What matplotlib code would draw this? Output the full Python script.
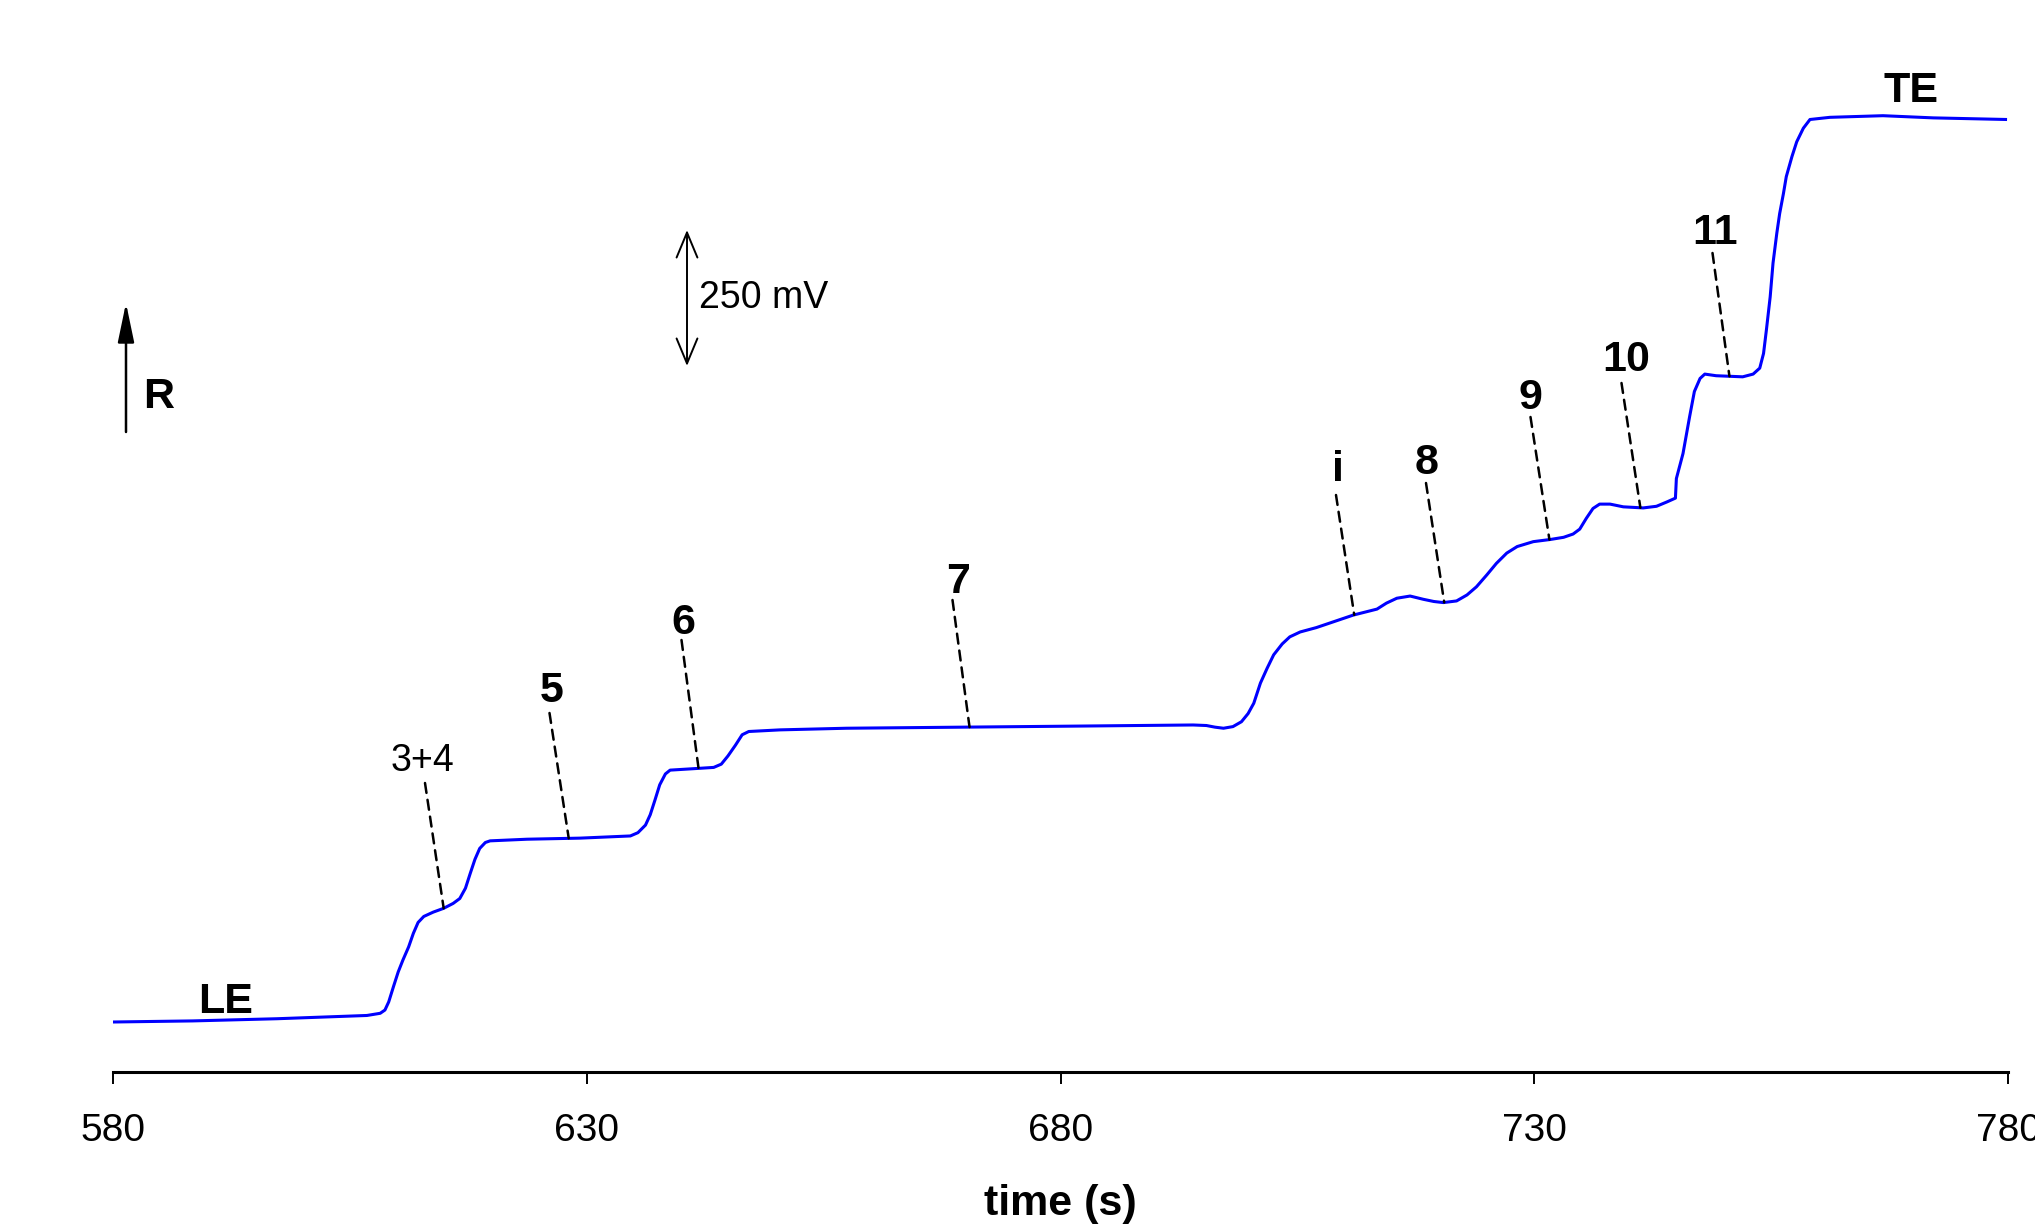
import numpy as np
import matplotlib
matplotlib.use("Agg")
import matplotlib.pyplot as plt

plt.rcParams['font.family'] = ['Liberation Sans', 'DejaVu Sans']

# ---------------- data ----------------
time_s = [580.0, 588.4, 597.3, 606.8, 608.2, 608.7, 609.1, 609.6, 610.1, 610.6,
          611.2, 611.7, 612.2, 612.8, 613.8, 614.9, 615.9, 616.6, 617.2, 617.7,
          618.2, 618.7, 619.3, 619.8, 623.7, 629.3, 634.6, 635.4, 636.2, 636.7,
          637.2, 637.7, 638.3, 638.8, 641.6, 643.4, 644.2, 644.9, 645.7, 646.4,
          647.1, 650.4, 657.4, 682.1, 694.0, 695.4, 696.3, 697.2, 698.2, 699.1,
          699.8, 700.4, 701.1, 701.8, 702.5, 703.4, 704.2, 705.3, 707.0, 710.9,
          713.4, 714.4, 715.5, 716.9, 718.3, 719.4, 720.4, 721.8, 722.9, 723.9,
          725.0, 726.0, 727.1, 728.2, 729.9, 731.7, 733.1, 734.1, 734.8, 735.5,
          736.2, 736.9, 738.0, 739.4, 741.5, 742.9, 744.0, 744.9, 745.0, 745.7,
          746.4, 746.9, 747.5, 748.0, 749.2, 752.0, 753.1, 753.8, 754.2, 754.5,
          754.9, 755.2, 755.6, 755.9, 756.3, 756.6, 757.2, 757.7, 758.4, 759.1,
          761.2, 766.8, 772.1, 779.9]
signal_mV = [0, 2, 6, 12, 16, 22, 37, 65, 92, 114,
             138, 163, 183, 194, 202, 209, 218, 227, 246, 273,
             299, 319, 330, 333, 336, 338, 342, 348, 362, 381,
             408, 436, 456, 463, 466, 468, 474, 489, 509, 528,
             534, 537, 540, 544, 546, 545, 542, 540, 543, 552,
             567, 586, 623, 650, 675, 695, 708, 717, 725, 748,
             759, 770, 779, 783, 777, 773, 771, 774, 785, 800,
             822, 843, 862, 874, 883, 887, 891, 897, 906, 926,
             944, 952, 952, 947, 945, 948, 956, 963, 999, 1045,
             1113, 1159, 1183, 1191, 1188, 1186, 1191, 1202, 1229, 1272,
             1333, 1395, 1450, 1486, 1523, 1554, 1591, 1618, 1643, 1659,
             1663, 1666, 1662, 1659]
assert len(time_s) == len(signal_mV)

x_ticks = [580, 630, 680, 730, 780]
x_label = "time (s)"

zone_labels = ['3+4', '5', '6', '7', 'i', '8', '9', '10', '11']
zone_times = [614.9, 628.1, 641.8, 670.4, 711.0, 720.5, 731.6, 741.2, 750.6]
scale_bar_mV = 250

# ---------------- layout (pixel positions of annotations) ----------------
W, H = 2035, 1224
zone_label_px = [(422, 761), (552, 691), (683, 623), (958, 582), (1338, 470),
                 (1427, 463), (1530, 398), (1626, 360), (1715, 233)]
zone_line_top_px = [(425, 783), (549.5, 713), (681.5, 640), (952.5, 600), (1336, 495),
                    (1426, 483), (1530.5, 417), (1621.5, 383), (1712.5, 253)]

fig = plt.figure(figsize=(W / 100, H / 100), dpi=100)
ax = fig.add_axes([113 / W, 152 / H, 1895 / W, 1052 / H])

k = 250 / 136.0
ax.set_xlim(580, 780)
ax.set_ylim((1022 - 1072) * k, (1022 - 20) * k)

ax.plot(time_s, signal_mV, color='#0000ff', lw=2.2, solid_joinstyle='round',
        solid_capstyle='butt')

for s in ['left', 'right', 'top']:
    ax.spines[s].set_visible(False)
ax.spines['bottom'].set_linewidth(2.2)
ax.set_yticks([])
ax.set_xticks(x_ticks)
ax.set_xticklabels([str(t) for t in x_ticks])
ax.tick_params(axis='x', direction='out', length=8.5, width=1.4, pad=21, labelsize=28)
ax.set_xlabel(x_label, fontsize=31, fontweight='bold')
ax.xaxis.set_label_coords(0.5, (1072 - 1184) / 1052)


def fp(xp, yp):
    return (xp, H - yp)


# zone labels with dashed leader lines
for name, t, (lx, ly), (tx, ty) in zip(zone_labels, zone_times, zone_label_px, zone_line_top_px):
    v = np.interp(t, time_s, signal_mV)
    bold = name != '3+4'
    fig.text(lx / W, 1 - ly / H, name, ha='center', va='center',
             fontsize=31 if bold else 27, fontweight='bold' if bold else 'normal')
    ax.annotate('', xy=(t, v), xycoords='data', xytext=fp(tx, ty), textcoords='figure pixels',
                arrowprops=dict(arrowstyle='-', linestyle=(0, (4, 2.8)), lw=1.8,
                                color='black', shrinkA=0, shrinkB=0))

fig.text(226 / W, 1 - 1002 / H, 'LE', ha='center', va='center', fontsize=31, fontweight='bold')
fig.text(1911 / W, 1 - 91 / H, 'TE', ha='center', va='center', fontsize=31, fontweight='bold')

# R arrow
ax.annotate('', xy=fp(126, 303), xycoords='figure pixels', xytext=fp(126, 432),
            textcoords='figure pixels',
            arrowprops=dict(arrowstyle='-|>,head_length=24,head_width=5', mutation_scale=1,
                            lw=1.8, color='black', shrinkA=0, shrinkB=0))
fig.text(159 / W, 1 - 397 / H, 'R', ha='center', va='center', fontsize=31, fontweight='bold')

# scale bar 250 mV
t_sb = 580 + (687 - 113) * 200 / 1895
v_sb = (1022 - 366) * k
ax.annotate('', xy=(t_sb, v_sb + scale_bar_mV), xytext=(t_sb, v_sb),
            arrowprops=dict(arrowstyle='<->,head_length=18,head_width=7.5', mutation_scale=1,
                            lw=1.4, color='black', shrinkA=0, shrinkB=0))
ax.text(t_sb + 1.3, v_sb + scale_bar_mV / 2, f'{scale_bar_mV} mV', ha='left', va='center',
        fontsize=27)

fig.savefig('out.png', dpi=100)
